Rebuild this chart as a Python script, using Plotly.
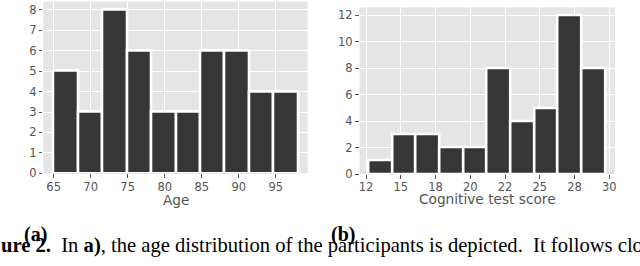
import plotly.graph_objects as go

W, H = 640, 266

# ---- data ----
age_bin_edges = [65.0, 68.3, 71.6, 74.9, 78.2, 81.5, 84.8, 88.1, 91.4, 94.7, 98.0]
age_counts = [5, 3, 8, 6, 3, 3, 6, 6, 4, 4]
age_ticks = [65, 70, 75, 80, 85, 90, 95]
age_yticks = [0, 1, 2, 3, 4, 5, 6, 7, 8]

score_bin_edges = [12.67, 14.37, 16.08, 17.78, 19.48, 21.19, 22.89, 24.59, 26.29, 28.0, 29.7]
score_counts = [1, 3, 3, 2, 2, 8, 4, 5, 12, 8]
score_tickvals = [12.5, 15, 17.5, 20, 22.5, 25, 27.5, 30]
score_ticktext = ["12", "15", "18", "20", "22", "25", "28", "30"]
score_yticks = [0, 2, 4, 6, 8, 10, 12]

BAR = "#363636"
BG = "#E5E5E5"
TXT = "#555555"


def centers(edges):
    return [(a + b) / 2 for a, b in zip(edges[:-1], edges[1:])]


def widths(edges):
    return [b - a for a, b in zip(edges[:-1], edges[1:])]


fig = go.Figure()
fig.add_trace(go.Bar(x=centers(age_bin_edges), y=age_counts, width=widths(age_bin_edges),
                     marker=dict(color=BAR, line=dict(color="white", width=2.6)),
                     xaxis="x", yaxis="y", showlegend=False))
fig.add_trace(go.Bar(x=centers(score_bin_edges), y=score_counts, width=widths(score_bin_edges),
                     marker=dict(color=BAR, line=dict(color="white", width=2.6)),
                     xaxis="x2", yaxis="y2", showlegend=False))


def px_x(p):
    return p / W


def px_y(p):
    return 1 - p / H


tickfont = dict(family="DejaVu Sans", size=11.5, color=TXT)
common = dict(showgrid=True, gridcolor="white", gridwidth=1.1, zeroline=False,
              ticks="outside", ticklen=3.5, tickwidth=1, tickcolor=TXT,
              tickfont=tickfont, showline=False, automargin=False)

fig.update_layout(
    width=W, height=H,
    margin=dict(l=0, r=0, t=0, b=0, autoexpand=False),
    paper_bgcolor="white",
    plot_bgcolor=BG,
    bargap=0,
    xaxis=dict(domain=[px_x(43.3), px_x(307.7)], range=[63.6, 99.32],
               tickmode="array", tickvals=age_ticks, anchor="y",
               ticklabelstandoff=-1, **common),
    yaxis=dict(domain=[px_y(173.3), px_y(1.7)], range=[0, 8.4],
               tickmode="array", tickvals=age_yticks, anchor="x", **common),
    xaxis2=dict(domain=[px_x(359.5), px_x(615)], range=[12.03, 30.41],
                tickmode="array", tickvals=score_tickvals, ticktext=score_ticktext,
                anchor="y2", ticklabelstandoff=-1, **common),
    yaxis2=dict(domain=[px_y(174), px_y(7.3)], range=[0, 12.6],
                tickmode="array", tickvals=score_yticks, anchor="x2", **common),
)

titlefont = dict(family="DejaVu Sans", size=13.7, color=TXT)
fig.add_annotation(text="Age", x=px_x(175.5), y=px_y(199.5), xref="paper", yref="paper",
                   showarrow=False, font=titlefont, xanchor="center", yanchor="middle")
fig.add_annotation(text="Cognitive test score", x=px_x(487), y=px_y(199), xref="paper", yref="paper",
                   showarrow=False, font=titlefont, xanchor="center", yanchor="middle")

serif = "Liberation Serif"
fig.add_annotation(text="<b>(a)</b>", x=px_x(35), y=px_y(234.5), xref="paper", yref="paper",
                   showarrow=False, font=dict(family=serif, size=20, color="black"),
                   xanchor="center", yanchor="middle")
fig.add_annotation(text="<b>(b)</b>", x=px_x(343), y=px_y(234.5), xref="paper", yref="paper",
                   showarrow=False, font=dict(family=serif, size=20, color="black"),
                   xanchor="center", yanchor="middle")
caption = ("<b>ure 2.</b>  In <b>a)</b>, the age distribution of the participants is depicted."
           "  It follows clo")
fig.add_annotation(text=caption, x=px_x(-1), y=px_y(245), xref="paper", yref="paper",
                   showarrow=False, font=dict(family=serif, size=20.6, color="black"),
                   xanchor="left", yanchor="middle", align="left")

fig.write_html("out.html", post_script="document.body.style.margin='0';",
               config={"displayModeBar": False})
